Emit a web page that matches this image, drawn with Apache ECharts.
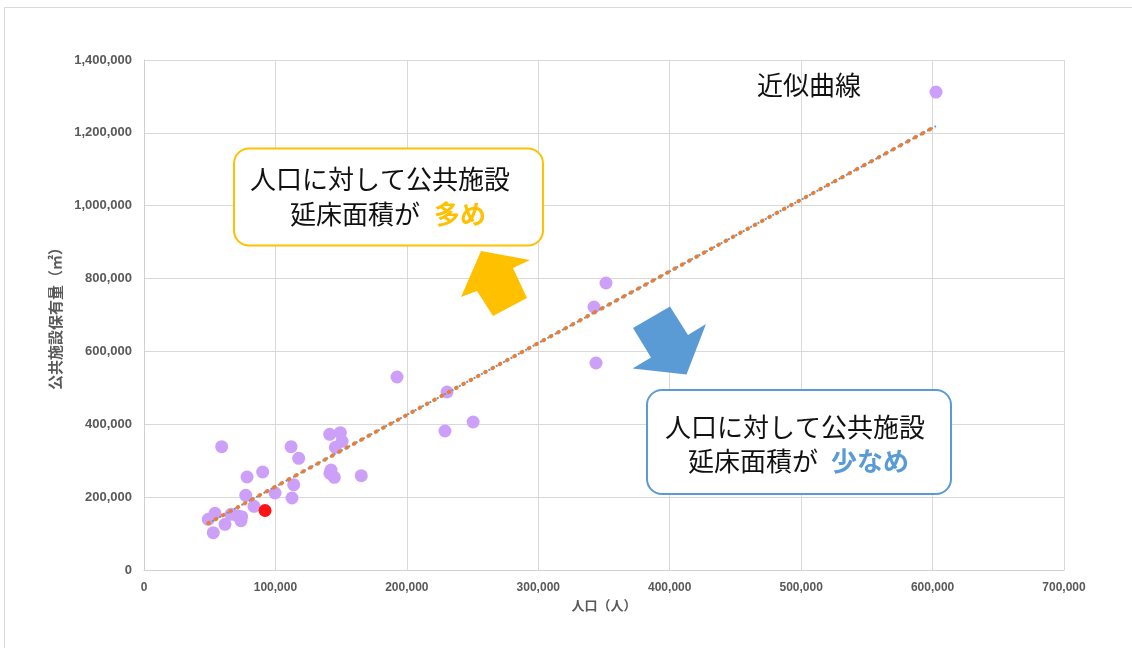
<!DOCTYPE html>
<html>
<head>
<meta charset="utf-8">
<script src="https://cdn.jsdelivr.net/npm/echarts@6/dist/echarts.min.js"></script>
<style>
  html, body { margin: 0; padding: 0; background: #ffffff; }
  #chart { width: 1132px; height: 648px; }
</style>
</head>
<body>
<div id="chart"></div>
<script>
// Population (people) of each municipality
const cityPopulation = [
  602600, 351500, 342400, 343900, 192500, 230600, 250400, 229000,
  141300, 149400, 150700, 145600, 111900, 59100, 117700, 90300,
  142300, 141500, 144800, 165300, 78400, 113900, 77400, 99700,
  112600, 83700, 54000, 48900, 61600, 66200, 71300, 74300,
  73800, 52700
];
// Total floor area of public facilities (m2) for the same municipalities
const cityFloorArea = [
  1312000, 787800, 722000, 568200, 529800, 488600, 406300, 381600,
  372500, 376900, 353300, 336800, 338500, 338500, 306600, 269000,
  274500, 265400, 254500, 258900, 255300, 234100, 205100, 211400,
  197600, 174900, 155600, 139200, 125400, 152900, 148200, 146300,
  135300, 102400
];
// Highlighted municipality
const homePopulation = [92100];
const homeFloorArea = [163300];
// Linear trend line end points
const trendPopulation = [48900, 602600];
const trendFloorArea = [128200, 1218800];
// Axis tick values
const xTicks = [0, 100000, 200000, 300000, 400000, 500000, 600000, 700000];
const yTicks = [0, 200000, 400000, 600000, 800000, 1000000, 1200000, 1400000];

const pairs = (xs, ys) => xs.map((x, i) => [x, ys[i]]);
const fmt = v => Number(v).toLocaleString('en-US');

const tickFont = {
  fontFamily: 'Liberation Sans, Arial, sans-serif',
  fontWeight: 'bold',
  color: '#595959'
};
const jp = 'Noto Sans CJK JP, sans-serif';

const chart = echarts.init(document.getElementById('chart'), null, { renderer: 'canvas' });

const option = {
  backgroundColor: '#ffffff',
  animation: false,
  grid: { left: 144, right: 68, top: 60, bottom: 78, containLabel: false },
  xAxis: {
    type: 'value',
    min: xTicks[0],
    max: xTicks[xTicks.length - 1],
    interval: xTicks[1] - xTicks[0],
    name: '人口（人）',
    nameLocation: 'middle',
    nameGap: 29,
    nameTextStyle: { fontFamily: jp, fontWeight: 'bold', fontSize: 13, color: '#595959' },
    axisLine: { show: true, lineStyle: { color: '#d0d0d0', width: 1 } },
    axisTick: { show: false },
    axisLabel: Object.assign({ margin: 12, fontSize: 12, formatter: fmt }, tickFont),
    splitLine: { show: true, lineStyle: { color: '#d9d9d9', width: 1 } }
  },
  yAxis: {
    type: 'value',
    min: yTicks[0],
    max: yTicks[yTicks.length - 1],
    interval: yTicks[1] - yTicks[0],
    name: '公共施設保有量（㎡）',
    nameLocation: 'middle',
    nameGap: 77,
    nameRotate: 90,
    nameTextStyle: { fontFamily: jp, fontWeight: 'bold', fontSize: 15, color: '#595959' },
    axisLine: { show: true, lineStyle: { color: '#d0d0d0', width: 1 } },
    axisTick: { show: false },
    axisLabel: Object.assign({ margin: 12, fontSize: 13, formatter: fmt }, tickFont),
    splitLine: { show: true, lineStyle: { color: '#d9d9d9', width: 1 } }
  },
  series: [
    {
      name: '市町村',
      type: 'scatter',
      symbol: 'circle',
      symbolSize: 13,
      itemStyle: { color: '#cca0f8', opacity: 1 },
      data: pairs(cityPopulation, cityFloorArea),
      z: 2
    },
    {
      name: '本市',
      type: 'scatter',
      symbol: 'circle',
      symbolSize: 13,
      itemStyle: { color: '#ff1414', opacity: 1 },
      data: pairs(homePopulation, homeFloorArea),
      z: 3
    },
    {
      name: '近似曲線(青)',
      type: 'line',
      showSymbol: false,
      symbol: 'none',
      data: pairs(trendPopulation, trendFloorArea),
      lineStyle: { color: '#5b9bd5', width: 2, type: [2, 2.2] },
      z: 4
    },
    {
      name: '近似曲線',
      type: 'line',
      showSymbol: false,
      symbol: 'none',
      data: pairs(trendPopulation, trendFloorArea),
      lineStyle: { color: '#ed7d31', width: 4, type: [0.8, 7.5], cap: 'round' },
      z: 5
    }
  ],
  graphic: [
    // chart frame
    {
      type: 'polyline',
      shape: { points: [[4.5, 648], [4.5, 7.5], [1132, 7.5]] },
      style: { stroke: '#d9d9d9', lineWidth: 1, fill: null },
      silent: true
    },
    // "more than expected" callout
    {
      type: 'rect',
      shape: { x: 234, y: 148.5, width: 309, height: 97, r: 15 },
      style: { fill: '#ffffff', stroke: '#ffc000', lineWidth: 2 },
      z: 10
    },
    {
      type: 'text', x: 380, y: 179, z: 11,
      style: { text: '人口に対して公共施設', font: '26px ' + jp, fill: '#111111', align: 'center', verticalAlign: 'middle' }
    },
    {
      type: 'text', x: 290, y: 214, z: 11,
      style: { text: '延床面積が', font: '26px ' + jp, fill: '#111111', align: 'left', verticalAlign: 'middle' }
    },
    {
      type: 'text', x: 434, y: 214, z: 11,
      style: { text: '多め', font: 'bold 26px ' + jp, fill: '#ffc000', align: 'left', verticalAlign: 'middle' }
    },
    {
      type: 'polygon', z: 10,
      shape: { points: [[481, 251], [530, 260], [513, 268], [527, 298], [493, 316], [477, 291], [461, 297]] },
      style: { fill: '#ffc000' }
    },
    // "less than expected" callout
    {
      type: 'rect',
      shape: { x: 647, y: 390, width: 304, height: 104, r: 15 },
      style: { fill: '#ffffff', stroke: '#5b9bd5', lineWidth: 2 },
      z: 10
    },
    {
      type: 'text', x: 795, y: 427, z: 11,
      style: { text: '人口に対して公共施設', font: '26px ' + jp, fill: '#111111', align: 'center', verticalAlign: 'middle' }
    },
    {
      type: 'text', x: 688, y: 461, z: 11,
      style: { text: '延床面積が', font: '26px ' + jp, fill: '#111111', align: 'left', verticalAlign: 'middle' }
    },
    {
      type: 'text', x: 831, y: 461, z: 11,
      style: { text: '少なめ', font: 'bold 26px ' + jp, fill: '#5b9bd5', align: 'left', verticalAlign: 'middle' }
    },
    {
      type: 'polygon', z: 10,
      shape: { points: [[633, 328], [670, 306.5], [688, 335], [706, 324], [686.5, 374.5], [632.5, 368.5], [651, 357.5]] },
      style: { fill: '#5b9bd5' }
    },
    // trend line caption
    {
      type: 'text', x: 809, y: 85, z: 11,
      style: { text: '近似曲線', font: '26px ' + jp, fill: '#111111', align: 'center', verticalAlign: 'middle' }
    }
  ]
};

chart.setOption(option);
</script>
</body>
</html>
